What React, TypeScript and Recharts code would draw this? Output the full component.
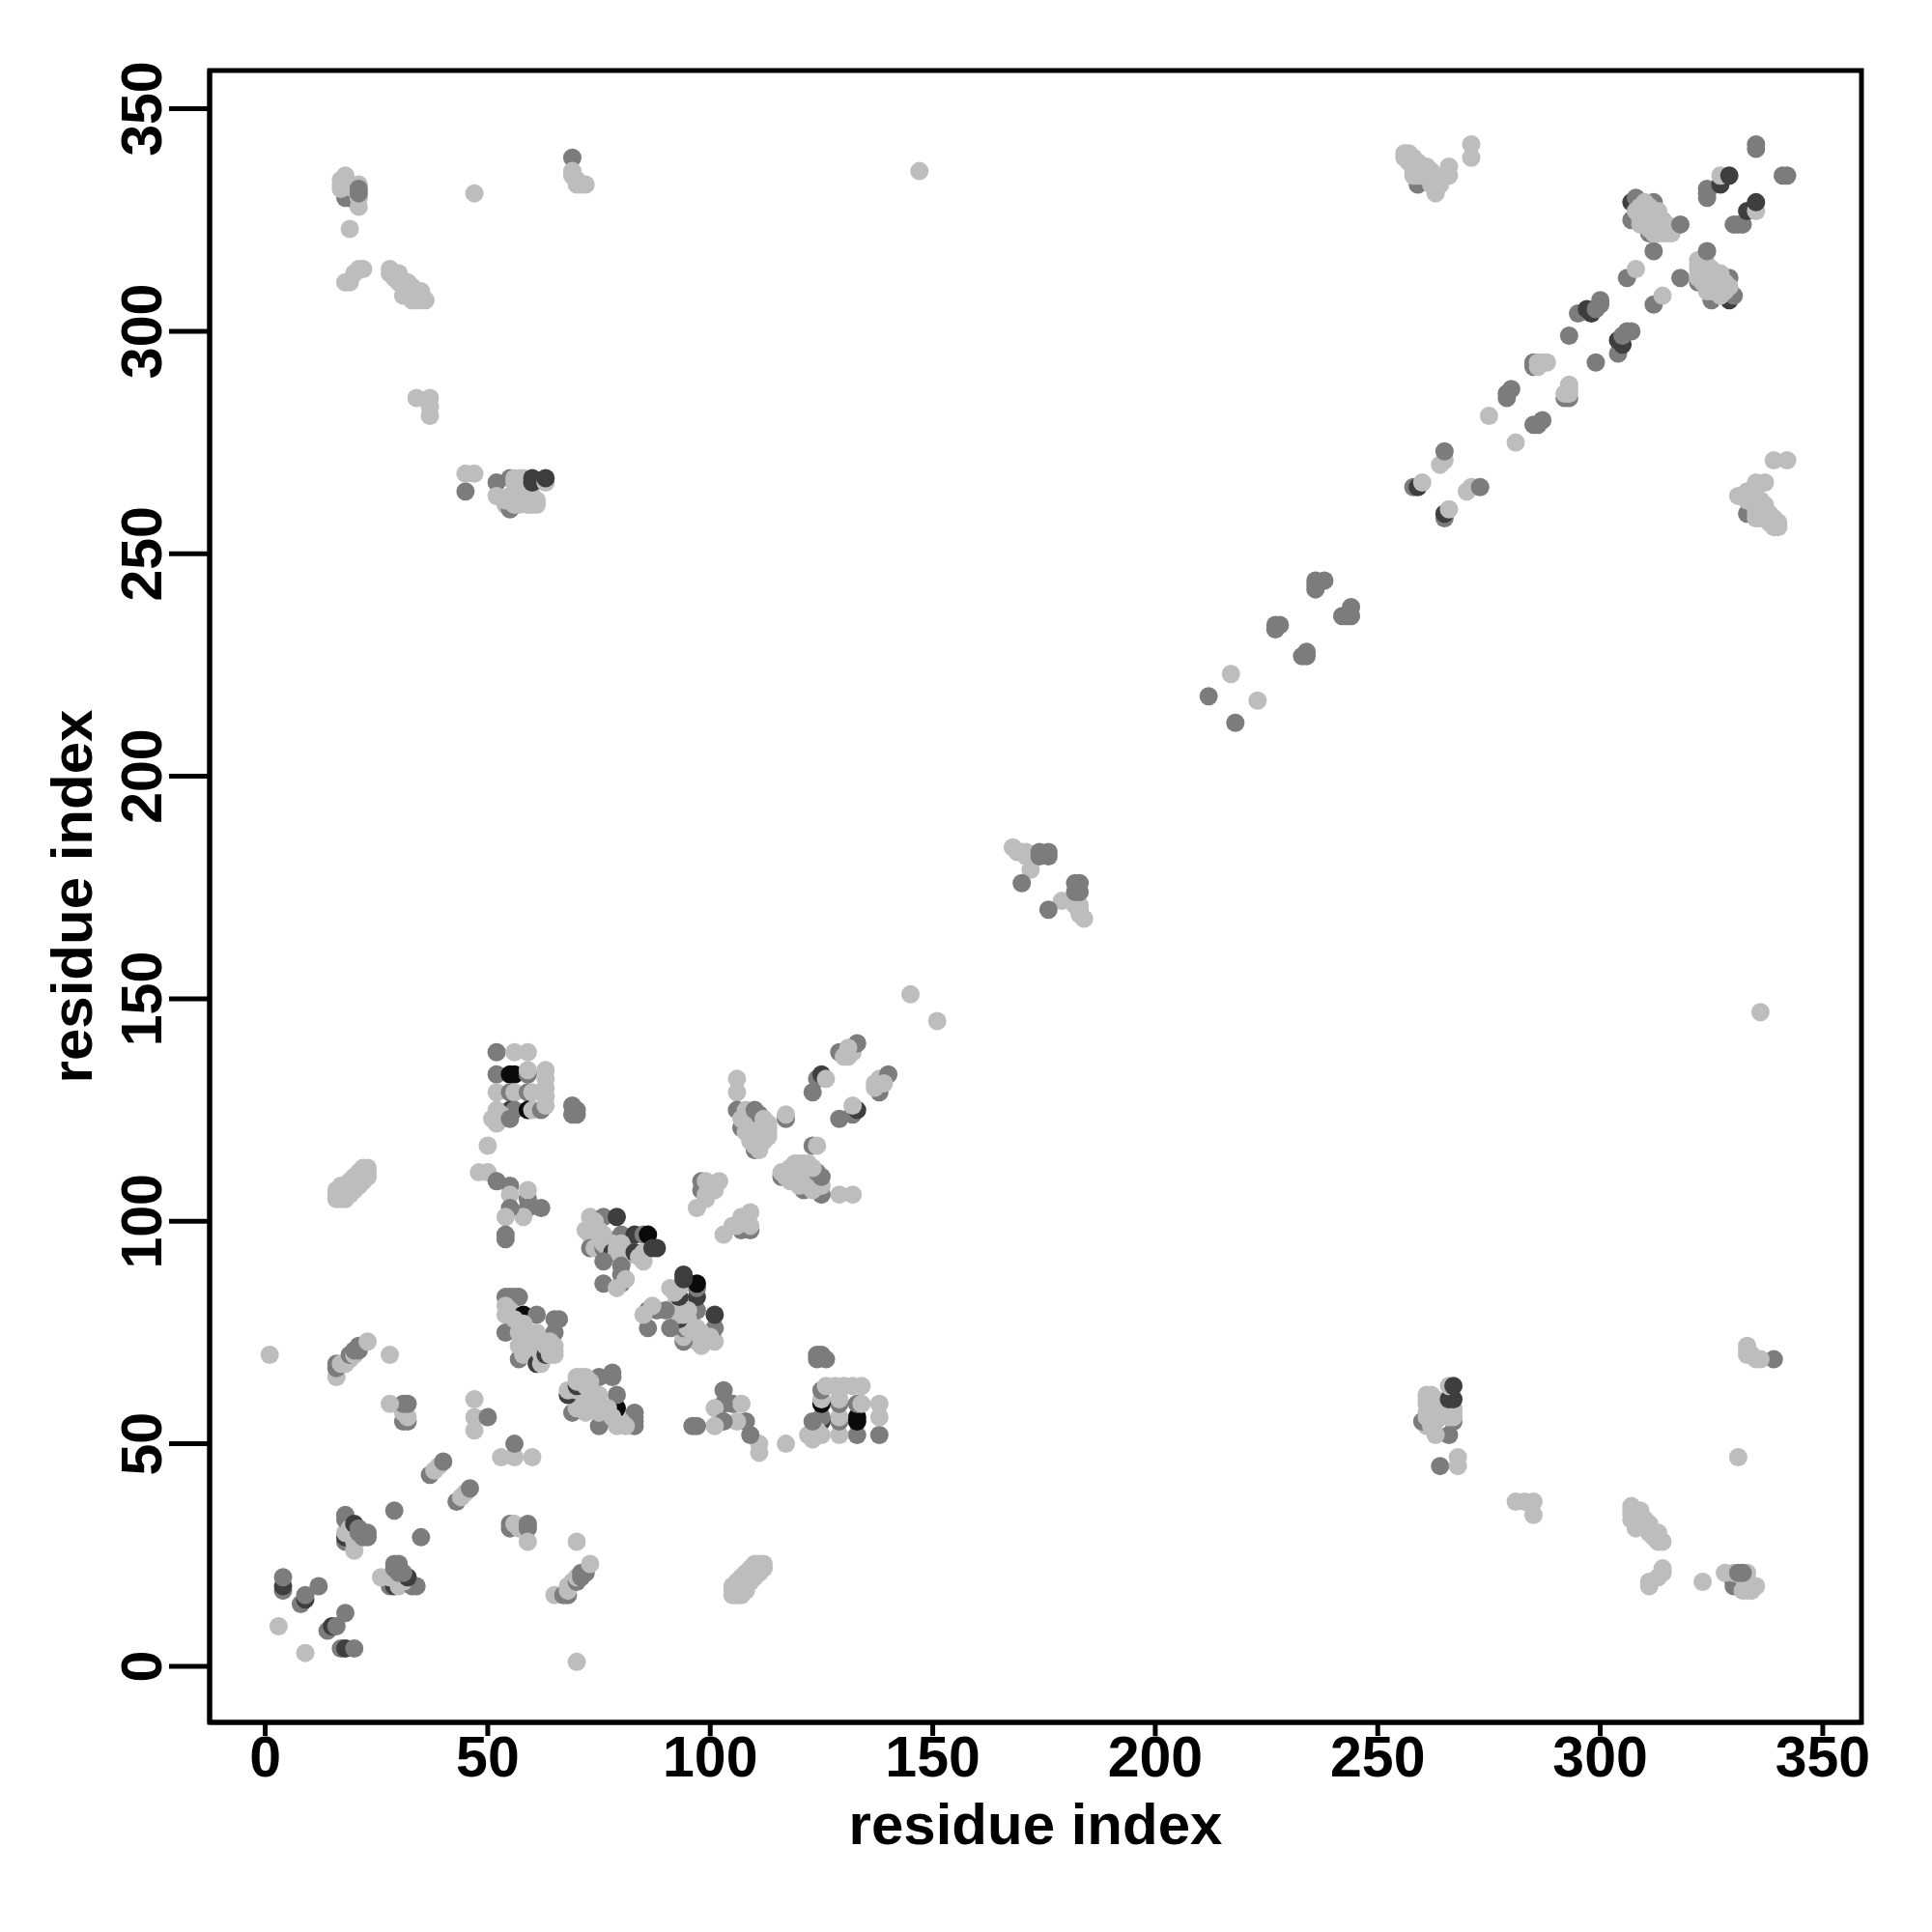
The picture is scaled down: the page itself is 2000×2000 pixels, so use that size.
import React from 'react';
import { ReferenceArea, Scatter, ScatterChart, XAxis, YAxis } from 'recharts';

// each contact: [residue i, residue j, contact level 0..3]; the map is symmetric
type Contact = [number, number, number];

const axisTicks = [0, 50, 100, 150, 200, 250, 300, 350];
const levelColors = ['#bdbdbd', '#7c7c7c', '#3e3e3e', '#0a0a0a'];

const nTerminal: Contact[] = [
  [1, 70, 0], [3, 9, 0], [4, 17, 1], [4, 18, 2], [4, 20, 1], [8, 14, 1], [9, 15, 2], [9, 16, 1], [12, 18, 1],
  [18, 28, 1], [18, 29, 2], [18, 30, 0], [18, 33, 1], [18, 34, 1], [19, 31, 0], [20, 26, 0], [20, 28, 0], [20, 29, 0],
  [20, 32, 2], [21, 30, 1], [21, 31, 1], [22, 29, 1], [23, 29, 1], [23, 30, 1], [29, 35, 1],
  [31, 55, 1], [32, 55, 1], [32, 56, 0], [31, 57, 0], [31, 59, 1], [32, 59, 1], [28, 59, 0],
  [37, 43, 1], [38, 44, 0], [39, 45, 0], [40, 46, 1], [47, 53, 0], [47, 56, 0], [50, 56, 1], [47, 60, 0],
  [16, 65, 0], [16, 67, 1], [16, 68, 1], [17, 68, 0], [18, 68, 0], [19, 69, 0], [19, 70, 1], [20, 70, 0], [20, 71, 1],
  [21, 71, 1], [21, 72, 1], [23, 73, 0], [28, 70, 0],
];

const farContacts: Contact[] = [
  [19, 330, 2], [18, 330, 1], [19, 331, 1], [18, 335, 0], [17, 334, 0], [17, 333, 0], [17, 332, 0], [18, 333, 0],
  [20, 332, 0], [19, 333, 0], [21, 333, 0], [21, 328, 0], [21, 330, 0], [21, 331, 1], [21, 332, 1], [19, 323, 0],
  [18, 311, 0], [19, 311, 0], [20, 313, 0], [21, 314, 0], [22, 314, 0],
  [28, 314, 0], [28, 313, 0], [29, 313, 0], [29, 312, 0], [30, 313, 0], [30, 311, 0], [31, 311, 0], [31, 310, 0],
  [32, 311, 0], [32, 309, 0], [33, 310, 0], [33, 308, 0], [31, 308, 0], [32, 308, 0], [34, 309, 0], [34, 307, 0],
  [35, 309, 0], [35, 308, 0], [36, 307, 0], [35, 307, 0], [33, 307, 0],
  [47, 331, 0], [69, 339, 1], [69, 336, 0], [69, 335, 0], [70, 334, 0], [70, 333, 0], [71, 333, 0], [72, 333, 0],
  [147, 336, 0], [145, 151, 0], [34, 285, 0], [37, 285, 0], [37, 283, 0], [37, 281, 0],
];

const block260: Contact[] = [
  [45, 264, 1], [45, 268, 0], [47, 268, 0], [52, 266, 1], [52, 263, 0], [54, 261, 0], [55, 260, 1], [55, 263, 0],
  [55, 267, 1], [56, 267, 0], [56, 261, 0], [57, 263, 1], [57, 261, 0], [59, 263, 0], [60, 261, 0], [60, 263, 0],
  [54, 262, 0], [55, 262, 0], [56, 262, 0], [58, 262, 0], [59, 261, 0], [59, 262, 0], [61, 261, 0], [61, 262, 0],
  [56, 266, 0], [57, 265, 0], [57, 266, 0], [57, 267, 0], [58, 265, 0], [58, 267, 0],
  [60, 266, 2], [60, 267, 2], [63, 266, 0], [63, 267, 2],
];

const block130: Contact[] = [
  [52, 138, 1], [56, 138, 0], [59, 138, 0], [52, 133, 1], [55, 133, 3], [56, 133, 3], [59, 133, 1], [59, 134, 0],
  [63, 134, 0], [63, 132, 0], [52, 129, 0], [55, 129, 1], [56, 129, 0], [59, 129, 1], [60, 129, 0], [63, 130, 0],
  [63, 128, 0], [55, 125, 2], [56, 125, 1], [59, 125, 3], [60, 125, 0], [62, 125, 1], [63, 126, 0], [52, 125, 0],
  [51, 123, 0], [52, 122, 0], [53, 123, 0], [53, 124, 0], [55, 123, 1], [69, 126, 1], [69, 124, 1], [70, 124, 1],
  [70, 125, 1], [50, 117, 0],
];

const block105: Contact[] = [
  [48, 111, 0], [50, 111, 0], [52, 109, 1], [55, 108, 1], [55, 106, 0], [59, 105, 1], [59, 107, 0], [62, 103, 1],
  [59, 103, 1], [58, 101, 0], [55, 103, 1], [54, 101, 0], [54, 97, 1], [54, 96, 1],
];

const block95: Contact[] = [
  [73, 101, 0], [76, 101, 1], [79, 101, 2], [74, 98, 2], [72, 98, 0], [73, 97, 0], [73, 99, 0], [74, 100, 0], [75, 98, 0],
  [75, 97, 0], [76, 97, 0], [77, 96, 0], [80, 97, 1], [83, 97, 2], [85, 97, 1], [86, 97, 3], [73, 94, 1], [74, 94, 0],
  [76, 94, 1], [76, 95, 0], [77, 94, 0], [78, 95, 0], [82, 93, 2], [78, 93, 2], [79, 93, 0], [79, 94, 0], [80, 94, 0],
  [80, 95, 0], [81, 92, 0], [83, 93, 2], [84, 92, 0], [85, 93, 0], [85, 91, 0], [87, 94, 2], [88, 94, 2], [76, 91, 1],
  [80, 90, 1], [80, 88, 1], [76, 86, 1], [80, 86, 1], [81, 87, 0], [79, 85, 0],
];

const block75: Contact[] = [
  [54, 83, 1], [55, 83, 1], [56, 83, 1], [57, 83, 1], [54, 79, 0], [54, 81, 0], [55, 80, 0], [55, 79, 0], [58, 79, 3], [61, 79, 1],
  [65, 78, 1], [66, 78, 1], [54, 75, 1], [57, 75, 0], [56, 78, 0], [58, 77, 0], [61, 75, 0], [61, 73, 0], [65, 75, 1],
  [57, 69, 1], [57, 72, 0], [58, 72, 0], [58, 73, 0], [60, 72, 0], [60, 73, 0], [60, 74, 0], [61, 71, 0], [61, 72, 0],
  [58, 70, 0], [61, 68, 2], [62, 68, 0], [62, 70, 0], [63, 70, 2], [63, 72, 0], [63, 73, 0], [64, 71, 0], [64, 73, 0],
  [65, 71, 0], [65, 72, 0], [64, 70, 0], [65, 70, 0],
];

const helixBand: Contact[] = [
  [16, 105, 0], [16, 106, 0], [16, 107, 0], [17, 105, 0], [17, 106, 0], [17, 107, 0], [17, 108, 0], [18, 105, 0],
  [18, 106, 0], [18, 107, 0], [18, 108, 0], [19, 106, 0], [19, 107, 0], [19, 108, 0], [19, 109, 0], [20, 107, 0],
  [20, 108, 0], [20, 109, 0], [20, 110, 0], [21, 108, 0], [21, 109, 0], [21, 110, 0], [21, 111, 0], [22, 109, 0],
  [22, 110, 0], [22, 111, 0], [22, 112, 0], [23, 110, 0], [23, 111, 0], [23, 112, 0],
];

const block120: Contact[] = [
  [98, 107, 1], [98, 109, 1], [99, 109, 0], [100, 107, 1], [99, 105, 0], [99, 106, 0], [97, 103, 0], [100, 108, 0],
  [101, 107, 0], [101, 108, 0], [102, 109, 0],
  [106, 132, 0], [106, 129, 0], [106, 125, 1], [107, 121, 1], [110, 116, 1], [108, 125, 0], [107, 123, 0], [108, 122, 0],
  [109, 118, 0], [109, 119, 0], [109, 123, 0], [108, 120, 0], [109, 121, 0], [110, 117, 0], [110, 118, 0], [110, 119, 0],
  [110, 120, 0], [111, 116, 0], [111, 117, 0], [111, 118, 0], [111, 119, 0], [111, 120, 0], [112, 118, 0], [112, 119, 0],
  [112, 120, 0], [110, 125, 1], [111, 124, 1], [112, 121, 0], [112, 122, 0], [112, 123, 0], [113, 120, 0], [113, 121, 0],
  [113, 122, 0], [113, 119, 0],
  [117, 123, 1], [117, 124, 0], [123, 129, 1], [124, 132, 1], [125, 133, 2], [126, 132, 0], [129, 138, 1], [130, 137, 0],
  [131, 137, 0], [132, 138, 0], [133, 140, 1], [131, 139, 0],
];

const midDiagonal: Contact[] = [
  [168, 184, 0], [169, 183, 0], [170, 183, 0], [171, 182, 0], [171, 183, 0], [172, 179, 0], [170, 176, 1], [174, 182, 1],
  [174, 183, 1], [176, 182, 1], [176, 183, 1], [212, 218, 1], [217, 223, 0], [227, 233, 1], [227, 234, 1], [228, 234, 1],
  [236, 242, 1], [236, 243, 1], [236, 244, 1], [238, 244, 1],
];

const upperDiagonal: Contact[] = [
  [258, 265, 1], [259, 265, 2], [260, 266, 0], [264, 270, 0], [265, 271, 0], [265, 273, 1], [275, 281, 0], [279, 285, 1],
  [279, 286, 1], [280, 287, 1], [285, 292, 1], [285, 293, 1], [286, 292, 0], [286, 293, 0], [287, 293, 0], [288, 293, 0],
  [293, 299, 1], [295, 304, 1], [297, 305, 2], [298, 304, 2], [299, 305, 1], [300, 306, 1], [300, 307, 1], [306, 312, 1],
  [308, 314, 0], [312, 318, 1],
  [307, 329, 2], [308, 330, 1], [312, 329, 1], [307, 325, 1], [311, 322, 1], [308, 327, 0], [309, 324, 0], [309, 325, 0],
  [309, 326, 0], [309, 327, 0], [309, 328, 0], [310, 324, 0], [310, 325, 0], [310, 326, 0], [310, 327, 0], [310, 328, 0],
  [310, 329, 0], [311, 323, 0], [311, 324, 0], [311, 325, 0], [311, 326, 0], [311, 327, 0], [311, 328, 0], [312, 322, 0],
  [312, 323, 0], [312, 324, 0], [312, 325, 0], [312, 326, 0], [313, 322, 0], [313, 323, 0], [313, 324, 0], [313, 325, 0],
  [313, 326, 0], [313, 327, 0], [314, 322, 0], [314, 323, 0], [314, 325, 0], [315, 322, 0], [315, 323, 0], [315, 324, 0],
  [316, 322, 0], [318, 324, 1],
  [324, 330, 1], [324, 331, 1], [324, 332, 1], [327, 333, 2], [327, 335, 0], [329, 335, 2], [335, 341, 1], [335, 342, 1],
];

const cornerContacts: Contact[] = [
  [259, 334, 2], [259, 333, 1], [256, 340, 0], [256, 339, 0], [257, 338, 0], [257, 339, 0], [257, 340, 0], [258, 335, 0],
  [258, 336, 0], [258, 337, 0], [258, 338, 0], [258, 339, 0], [259, 335, 0], [259, 336, 0], [259, 337, 0], [259, 338, 0],
  [260, 335, 0], [260, 336, 0], [260, 337, 0], [261, 335, 0], [261, 336, 0], [261, 337, 0], [262, 333, 0], [262, 334, 0],
  [262, 335, 0], [262, 336, 0], [263, 331, 0], [263, 332, 0], [263, 333, 0], [263, 334, 0], [263, 335, 0], [264, 333, 0],
  [266, 335, 0], [266, 337, 0], [271, 339, 0], [271, 342, 0],
];

const contacts = [
  ...nTerminal, ...farContacts, ...block260, ...block130, ...block105, ...block95, ...block75,
  ...helixBand, ...block120, ...midDiagonal, ...upperDiagonal, ...cornerContacts,
];

const points = contacts.flatMap(([i, j, level]) => [
  { x: i, y: j, level },
  { x: j, y: i, level },
]);

const fontFamily = '"Liberation Sans", Arial, sans-serif';

const ContactDot = (props: any) => (
  <circle cx={props.cx} cy={props.cy} r={9.5} fill={levelColors[props.payload.level]} />
);

const RotatedTick = (props: any) => (
  <text
    x={props.x}
    y={props.y}
    textAnchor="middle"
    transform={`rotate(-90 ${props.x} ${props.y})`}
    fontFamily={fontFamily}
    fontWeight="bold"
    fontSize={59}
    fill="#000"
    dy={-8}
  >
    {props.payload.value}
  </text>
);

const App = () => (
  <div style={{ position: 'absolute', left: 0, top: 0, width: 2000, height: 2000, background: '#fff' }}>
    <ScatterChart width={2000} height={2000} margin={{ top: 73, right: 73, bottom: 67, left: 67 }}>
      <XAxis
        type="number"
        dataKey="x"
        domain={[-12.5, 358.7]}
        ticks={axisTicks}
        interval={0}
        allowDataOverflow
        height={150}
        tickSize={14}
        tickMargin={0}
        stroke="#000"
        strokeWidth={5}
        tick={{ fontFamily, fontWeight: 'bold', fontSize: 59, fill: '#000' }}
        label={{
          value: 'residue index',
          position: 'insideBottom',
          offset: 24,
          fontFamily,
          fontWeight: 'bold',
          fontSize: 60,
          fill: '#000',
        }}
      />
      <YAxis
        type="number"
        dataKey="y"
        domain={[-12.6, 358.6]}
        ticks={axisTicks}
        interval={0}
        allowDataOverflow
        width={150}
        tickSize={42}
        tickMargin={0}
        stroke="#000"
        strokeWidth={5}
        tick={<RotatedTick />}
        label={{
          value: 'residue index',
          angle: -90,
          position: 'insideLeft',
          offset: 7,
          style: { textAnchor: 'middle' },
          fontFamily,
          fontWeight: 'bold',
          fontSize: 60,
          fill: '#000',
        }}
      />
      <Scatter data={points} shape={<ContactDot />} isAnimationActive={false} />
      <ReferenceArea
        x1={-12.5}
        x2={358.7}
        y1={-12.6}
        y2={358.6}
        fill="none"
        stroke="#000"
        strokeWidth={5}
        ifOverflow="visible"
      />
    </ScatterChart>
  </div>
);

export default App;
